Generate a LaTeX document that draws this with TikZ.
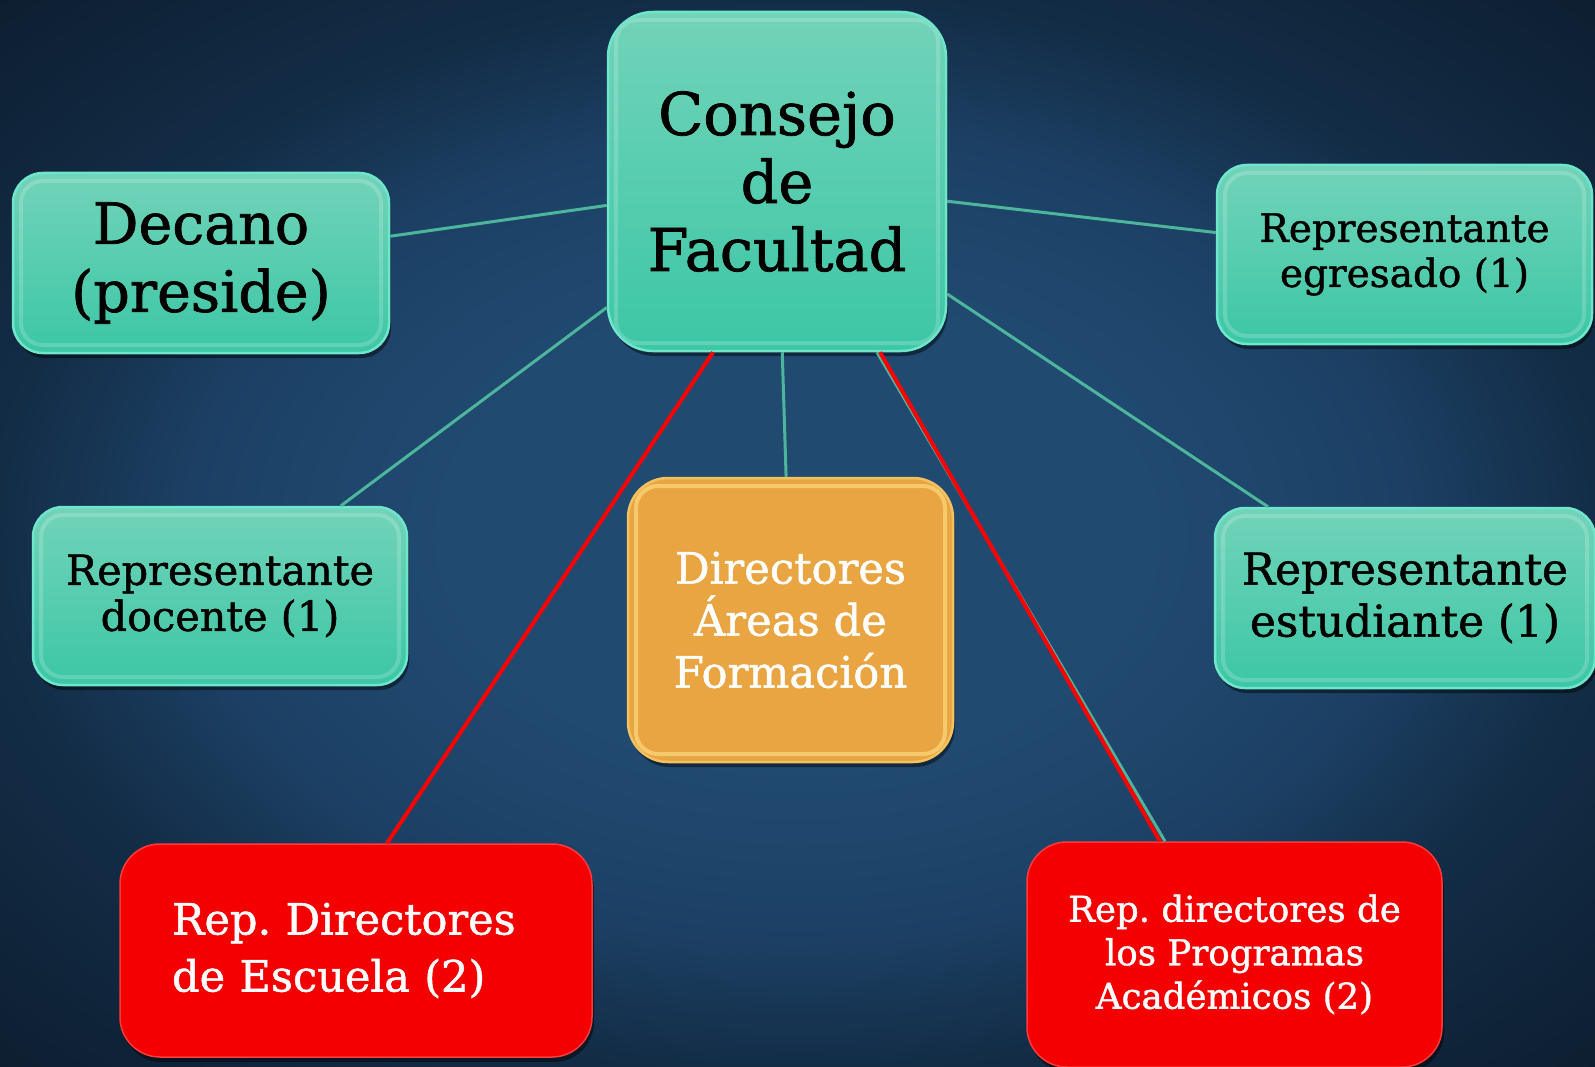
\documentclass[tikz,border=0pt]{standalone}
\usepackage{fontspec}
\setmainfont{DejaVu Serif}[RawFeature={embolden=1.2}]
\usetikzlibrary{shadows}
\definecolor{bgin}{HTML}{214A71}
\definecolor{bgmid}{HTML}{1C4064}
\definecolor{bgout}{HTML}{132D47}
\definecolor{bgcorner}{HTML}{0D1E30}
\definecolor{tealtop}{HTML}{72D3B9}
\definecolor{tealbot}{HTML}{3CC7A5}
\definecolor{tealedge}{HTML}{6FE6CC}
\definecolor{tealline}{HTML}{4DB59C}
\definecolor{orfill}{HTML}{E8A542}
\definecolor{oredge}{HTML}{F3C25E}
\definecolor{orhi}{HTML}{FFE38A}
\definecolor{redfill}{HTML}{F40000}
\definecolor{rededge}{HTML}{FF3A3A}
\definecolor{redline}{HTML}{FF0000}
\pgfdeclareradialshading{vignette}{\pgfpoint{0bp}{0bp}}{%
  color(0bp)=(bgin); color(11bp)=(bgin); color(19bp)=(bgmid); color(25bp)=(bgout); color(35.5bp)=(bgcorner); color(50bp)=(bgcorner)}
\tikzset{
  boxbase/.style={rectangle, inner sep=0pt, align=center,
    drop shadow={shadow xshift=2pt, shadow yshift=-5pt, opacity=0.45, fill=black}},
  bevel/.style={path picture={
    \draw[#1, line width=4pt, rounded corners=22pt]
      ([shift={(8pt,-8pt)}]path picture bounding box.north west) rectangle
      ([shift={(-8pt,8pt)}]path picture bounding box.south east);}},
  tealbox/.style={boxbase, top color=tealtop, bottom color=tealbot, draw=tealedge, line width=2.5pt, text=black,
    bevel={white, opacity=0.18}},
  orbox/.style={boxbase, fill=orfill, draw=oredge, line width=2.5pt, text=white,
    bevel={orhi, opacity=0.6}},
  redbox/.style={boxbase, fill=redfill, draw=rededge, line width=1.5pt, text=white},
  tlink/.style={draw=tealline, line width=3pt},
  rlink/.style={draw=redline, line width=4pt}
}
\begin{document}
\frenchspacing
\begin{tikzpicture}[x=1pt,y=-1pt]
\useasboundingbox (0,0) rectangle (1595,1067);
\shade[shading=vignette] (0,0) rectangle (1595,1067);

% nodes
\node[tealbox, minimum width=338pt, minimum height=339pt, rounded corners=45pt,
  font=\fontsize{59}{68}\selectfont] (cons) at (777,181.5) {Consejo\\de\\Facultad};
\node[tealbox, minimum width=376pt, minimum height=180pt, rounded corners=30pt,
  font=\fontsize{57}{68}\selectfont] (dec) at (201,263) {Decano\\(preside)};
\node[tealbox, minimum width=375pt, minimum height=179pt, rounded corners=30pt,
  font=\fontsize{39}{45}\selectfont] (egr) at (1404.5,254.5) {Representante\\egresado (1)};
\node[tealbox, minimum width=374pt, minimum height=178pt, rounded corners=30pt,
  font=\fontsize{41.4}{46}\selectfont] (doc) at (220,596) {Representante\\docente (1)};
\node[tealbox, minimum width=380pt, minimum height=180pt, rounded corners=30pt,
  font=\fontsize{43.8}{52}\selectfont] (est) at (1405,598) {Representante\\estudiante (1)};
\node[orbox, minimum width=325pt, minimum height=284pt, rounded corners=40pt,
  font=\fontsize{43.3}{52}\selectfont] (dir) at (790.5,620) {Directores\\Áreas de\\Formación};
\node[redbox, text width=368pt, inner xsep=52pt, minimum height=213pt, rounded corners=40pt,
  align=left, font=\fontsize{43.1}{57}\selectfont] (esc) at (356,950.5) {Rep. Directores\\de Escuela (2)};
\node[redbox, minimum width=415pt, minimum height=225pt, rounded corners=40pt,
  font=\fontsize{35.6}{43.5}\selectfont] (prog) at (1234.5,954.5) {Rep. directores de\\los Programas\\Académicos (2)};

% connectors
\draw[tlink] (dec) -- (cons);
\draw[tlink] (doc) -- (cons);
\draw[tlink] (egr) -- (cons);
\draw[tlink] (est) -- (cons);
\draw[tlink] (cons) -- (dir);
\draw[tlink] ([xshift=100pt]cons.south) -- ([xshift=-69.5pt]prog.north);
\draw[rlink] ([xshift=103pt]cons.south) -- ([xshift=-74.5pt]prog.north);
\draw[rlink] ([xshift=-64pt]cons.south) -- ([xshift=31pt]esc.north);
\end{tikzpicture}
\end{document}
